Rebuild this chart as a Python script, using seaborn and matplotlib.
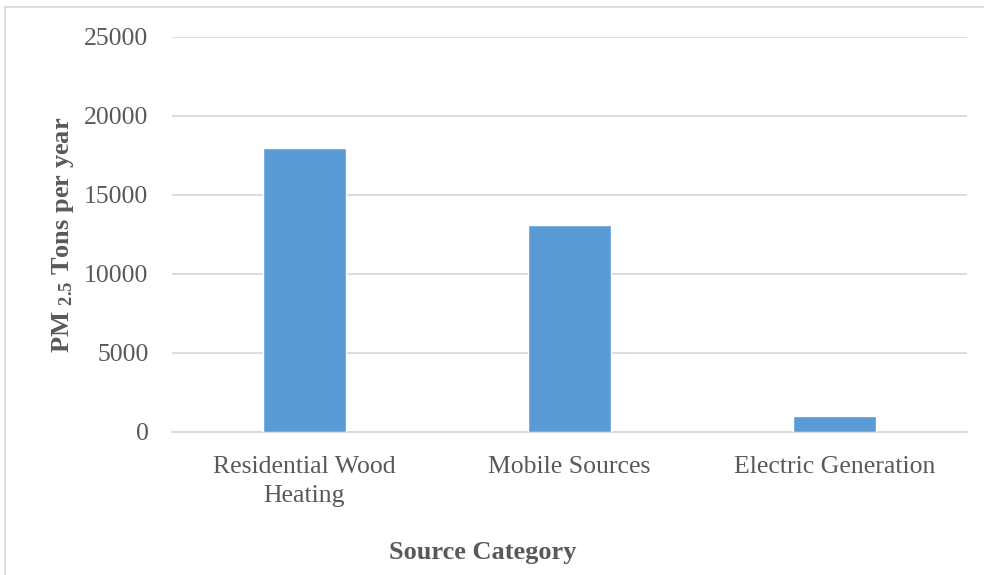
import matplotlib
matplotlib.use("Agg")
import matplotlib.pyplot as plt
import seaborn as sns
import pandas as pd
from matplotlib.patches import Rectangle

categories = ["Residential Wood\nHeating", "Mobile Sources", "Electric Generation"]
values = [17950, 13100, 1000]
yticks = [0, 5000, 10000, 15000, 20000, 25000]

sns.set_theme(style="white")
plt.rcParams["font.family"] = ["Liberation Serif", "DejaVu Serif"]
plt.rcParams["mathtext.fontset"] = "custom"
plt.rcParams["mathtext.rm"] = "Liberation Serif:bold"
plt.rcParams["mathtext.bf"] = "Liberation Serif:bold"
plt.rcParams["mathtext.it"] = "Liberation Serif:bold"

df = pd.DataFrame({"cat": categories, "val": values})

fig = plt.figure(figsize=(9.84, 5.75), dpi=100)
ax = fig.add_axes([172/984, 1-432/575, 795/984, 395/575])

sns.barplot(data=df, x="cat", y="val", color="#5b9bd5", saturation=1, width=0.31, ax=ax, zorder=3)

ax.set_ylim(0, 25000)
ax.set_xlim(-0.5, 2.5)
ax.set_yticks(yticks)
ax.set_yticklabels([str(t) for t in yticks])
ax.yaxis.grid(True, color="#d9d9d9", linewidth=1.3, zorder=0)
ax.set_axisbelow(True)
for s in ["top", "right", "left"]:
    ax.spines[s].set_visible(False)
ax.spines["bottom"].set_color("#d9d9d9")
ax.spines["bottom"].set_linewidth(1.3)
ax.tick_params(axis="both", length=0, labelsize=18.5, labelcolor="#595959")
ax.tick_params(axis="y", pad=17)
ax.tick_params(axis="x", pad=17)
for lbl in ax.get_xticklabels():
    lbl.set_linespacing(1.45)

ax.set_xlabel("")
fig.text(483/984, 1-552/575, "Source Category", fontsize=19, fontweight="bold",
         color="#595959", ha="center", va="center")
ax.set_ylabel(r"PM $_{2.5}$ Tons per year", fontsize=19, fontweight="bold", color="#595959", labelpad=6)

fig.patches.append(Rectangle((5/984, -0.1), 1.2, 1 - 7/575 + 0.1, transform=fig.transFigure,
                             fill=False, edgecolor="#d9d9d9", linewidth=1.3))

fig.savefig("out.png", dpi=100)
